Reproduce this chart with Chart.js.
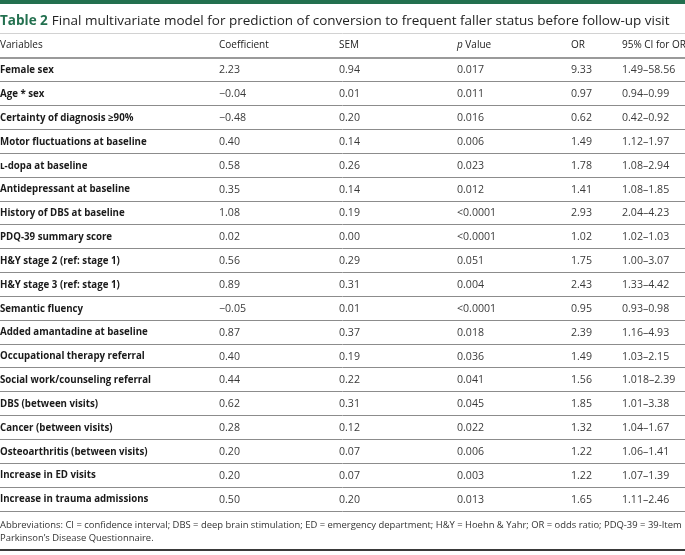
<!DOCTYPE html>
<html><head><meta charset="utf-8">
<script src="https://cdn.jsdelivr.net/npm/chart.js@4.4.1/dist/chart.umd.min.js"></script>
<style>html,body{margin:0;padding:0;background:#fff}#wrap{width:685px;height:555px}</style>
</head><body><div id="wrap"><canvas id="c" width="685" height="555"></canvas></div>
<script>
const tableLabel = "Table 2";
const tableTitle = "Final multivariate model for prediction of conversion to frequent faller status before follow-up visit";
const headers = ["Variables", "Coefficient", "SEM", "p Value", "OR", "95% CI for OR"];
const variables = ["Female sex","Age * sex","Certainty of diagnosis \u226590%","Motor fluctuations at baseline","\u029f-dopa at baseline","Antidepressant at baseline","History of DBS at baseline","PDQ-39 summary score","H&Y stage 2 (ref: stage 1)","H&Y stage 3 (ref: stage 1)","Semantic fluency","Added amantadine at baseline","Occupational therapy referral","Social work/counseling referral","DBS (between visits)","Cancer (between visits)","Osteoarthritis (between visits)","Increase in ED visits","Increase in trauma admissions"];
const coefficient = ["2.23","\u22120.04","\u22120.48","0.40","0.58","0.35","1.08","0.02","0.56","0.89","\u22120.05","0.87","0.40","0.44","0.62","0.28","0.20","0.20","0.50"];
const sem = ["0.94","0.01","0.20","0.14","0.26","0.14","0.19","0.00","0.29","0.31","0.01","0.37","0.19","0.22","0.31","0.12","0.07","0.07","0.20"];
const pValue = ["0.017","0.011","0.016","0.006","0.023","0.012","<0.0001","<0.0001","0.051","0.004","<0.0001","0.018","0.036","0.041","0.045","0.022","0.006","0.003","0.013"];
const oddsRatio = ["9.33","0.97","0.62","1.49","1.78","1.41","2.93","1.02","1.75","2.43","0.95","2.39","1.49","1.56","1.85","1.32","1.22","1.22","1.65"];
const ciOR = ["1.49\u201358.56","0.94\u20130.99","0.42\u20130.92","1.12\u20131.97","1.08\u20132.94","1.08\u20131.85","2.04\u20134.23","1.02\u20131.03","1.00\u20133.07","1.33\u20134.42","0.93\u20130.98","1.16\u20134.93","1.03\u20132.15","1.018\u20132.39","1.01\u20133.38","1.04\u20131.67","1.06\u20131.41","1.07\u20131.39","1.11\u20132.46"];
const footnote = ["Abbreviations: CI = confidence interval; DBS = deep brain stimulation; ED = emergency department; H&Y = Hoehn & Yahr; OR = odds ratio; PDQ-39 = 39-Item", "Parkinson\u2019s Disease Questionnaire."];

// layout (not data)
const colX = [0, 219, 339, 457, 571, 622];
const FONT = "'Open Sans', 'Noto Sans', sans-serif";
const columns = [variables, coefficient, sem, pValue, oddsRatio, ciOR];

const tablePlugin = {
  id: 'tablePlugin',
  afterDraw(chart) {
    const ctx = chart.ctx, xs = chart.scales.x, ys = chart.scales.y;
    const W = chart.width;
    ctx.save();
    ctx.fillStyle = '#23704f';
    ctx.fillRect(0, 0, W, 4);
    // title
    ctx.textBaseline = 'alphabetic';
    ctx.textAlign = 'left';
    ctx.font = `bold 13.5px ${FONT}`;
    ctx.fillStyle = '#23704f';
    ctx.fillText(tableLabel, xs.getPixelForValue(colX[0]), 25);
    const lw = ctx.measureText(tableLabel).width;
    ctx.font = `13.5px ${FONT}`;
    ctx.fillStyle = '#222';
    ctx.fillText(tableTitle, xs.getPixelForValue(colX[0]) + lw + 4, 25);
    ctx.strokeStyle = '#d2d2d2';
    ctx.lineWidth = 1;
    ctx.beginPath(); ctx.moveTo(0, 33.5); ctx.lineTo(W, 33.5); ctx.stroke();
    // header
    ctx.textBaseline = 'middle';
    ctx.fillStyle = '#222';
    const hy = 45;
    headers.forEach((h, j) => {
      const x = xs.getPixelForValue(colX[j]);
      if (h.startsWith('p ')) {
        ctx.font = `italic 10px ${FONT}`;
        ctx.fillText('p', x, hy);
        const pw = ctx.measureText('p ').width;
        ctx.font = `10px ${FONT}`;
        ctx.fillText(h.slice(2), x + pw, hy);
      } else {
        ctx.font = `10px ${FONT}`;
        ctx.fillText(h, x, hy);
      }
    });
    // cells
    variables.forEach((v, i) => {
      const y = ys.getPixelForValue(i) + 0.5;
      columns.forEach((col, j) => {
        const x = xs.getPixelForValue(colX[j]);
        if (j === 0) { ctx.font = `bold 9.7px ${FONT}`; ctx.fillStyle = '#1a1a1a'; }
        else { ctx.font = `10.6px ${FONT}`; ctx.fillStyle = '#3a3a3a'; }
        ctx.fillText(col[i], x, y);
      });
    });
    // footnote, sized to span the width
    ctx.font = `10px ${FONT}`;
    const fw = ctx.measureText(footnote[0]).width;
    const fs = Math.min(10, 10 * 683 / fw);
    ctx.font = `${fs}px ${FONT}`;
    ctx.fillStyle = '#333';
    footnote.forEach((t, k) => ctx.fillText(t, 0, 525 + k * 13));
    ctx.fillStyle = '#3a3a3a';
    ctx.fillRect(0, 549, W, 2);
    ctx.restore();
  }
};

new Chart(document.getElementById('c'), {
  type: 'scatter',
  data: { datasets: [] },
  options: {
    responsive: false,
    animation: false,
    events: [],
    layout: { padding: { top: 58, bottom: 44, left: 0, right: 0 } },
    plugins: { legend: { display: false }, tooltip: { enabled: false } },
    scales: {
      x: { type: 'linear', min: 0, max: 685, display: false },
      y: {
        type: 'category', labels: variables, offset: true,
        display: true,
        ticks: { display: false },
        border: { display: false },
        grid: {
          offset: true, drawTicks: false, tickLength: 0,
          color: (c) => (c.index === 0 || c.index === variables.length) ? '#9a9a9a' : '#8c8c8c',
          lineWidth: (c) => (c.index === 0 || c.index === variables.length) ? 2 : 1
        }
      }
    }
  },
  plugins: [tablePlugin]
});
</script></body></html>
